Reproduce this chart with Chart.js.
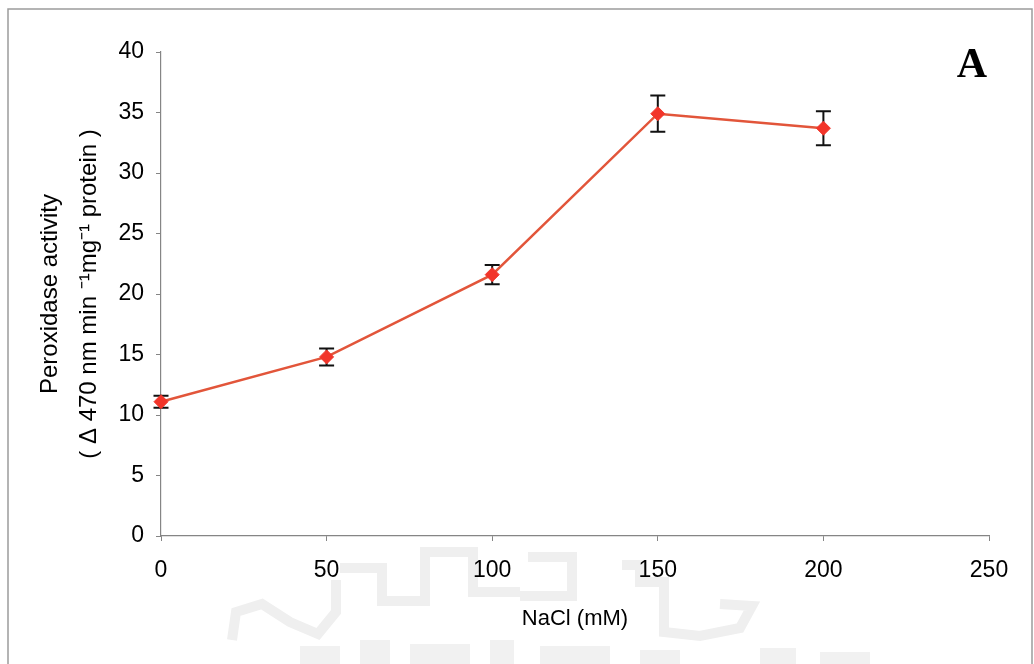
<!DOCTYPE html>
<html>
<head>
<meta charset="utf-8">
<title>Peroxidase activity vs NaCl</title>
<script src="https://cdn.jsdelivr.net/npm/chart.js@4.4.1/dist/chart.umd.min.js"></script>
<style>
  html, body { margin: 0; padding: 0; background: #fff; }
  canvas { display: block; }
</style>
</head>
<body>
<canvas id="peroxidaseChart" width="1034" height="664"></canvas>
<script>
// NaCl concentration (mM) and peroxidase activity (mean, error)
const naclLevels = [0, 50, 100, 150, 200];
const activity = [11.1, 14.8, 21.6, 34.9, 33.7];
const activityErr = [0.5, 0.7, 0.8, 1.5, 1.4];

const xTicks = [0, 50, 100, 150, 200, 250];
const yTicks = [0, 5, 10, 15, 20, 25, 30, 35, 40];

const panelLabel = "A";
const xTitle = "NaCl (mM)";
const yTitle = ["Peroxidase activity", "( \u0394 470 nm min \u207B\u00B9mg\u207B\u00B9 protein )"];

const axisGrey = "#858585";
const lineColor = "#e2553a";
const pointColor = "#f2352a";
const fontFamily = "'Liberation Sans', Arial, Helvetica, sans-serif";

// faint show-through of the page stamp behind the lower part of the plot
const stampStrokes = [
    [[340, 568], [382, 568], [382, 601], [425, 601], [425, 552], [473, 552], [473, 592], [520, 592]],
    [[520, 596], [572, 596], [572, 557], [528, 557]],
    [[622, 565], [640, 565], [640, 582], [664, 582], [664, 632], [700, 636], [740, 628], [752, 606], [720, 604]],
    [[232, 640], [236, 612], [262, 604], [290, 622], [318, 634], [336, 612], [336, 580]]
];
const stampBlocks = [
    [300, 646, 40, 18], [360, 640, 30, 24], [410, 644, 60, 20], [490, 640, 24, 24],
    [540, 646, 70, 18], [640, 650, 40, 14], [760, 648, 36, 16], [820, 652, 50, 12]
];

const pageStamp = {
    id: "pageStamp",
    beforeDraw(chart) {
        const { ctx } = chart;
        ctx.save();
        ctx.strokeStyle = "#efefef";
        ctx.lineWidth = 10;
        ctx.lineJoin = "miter";
        stampStrokes.forEach(path => {
            ctx.beginPath();
            path.forEach(([px, py], k) => k ? ctx.lineTo(px, py) : ctx.moveTo(px, py));
            ctx.stroke();
        });
        ctx.fillStyle = "#f1f1f1";
        stampBlocks.forEach(([bx, by, bw, bh]) => ctx.fillRect(bx, by, bw, bh));
        ctx.restore();
    }
};

// vertical error bars with caps, drawn under the line and markers
const errorBars = {
    id: "errorBars",
    beforeDatasetsDraw(chart) {
        const { ctx, scales: { x, y } } = chart;
        ctx.save();
        ctx.strokeStyle = "#111";
        ctx.lineWidth = 2;
        naclLevels.forEach((lvl, i) => {
            const px = x.getPixelForValue(lvl);
            const top = y.getPixelForValue(activity[i] + activityErr[i]);
            const bot = y.getPixelForValue(activity[i] - activityErr[i]);
            ctx.beginPath();
            ctx.moveTo(px, top); ctx.lineTo(px, bot);
            ctx.moveTo(px - 7.5, top); ctx.lineTo(px + 7.5, top);
            ctx.moveTo(px - 7.5, bot); ctx.lineTo(px + 7.5, bot);
            ctx.stroke();
        });
        ctx.restore();
    }
};

// outer figure frame and the panel letter
const panelFrame = {
    id: "panelFrame",
    afterDraw(chart) {
        const { ctx, width } = chart;
        ctx.save();
        ctx.strokeStyle = "#9c9c9c";
        ctx.lineWidth = 1.5;
        ctx.beginPath();
        ctx.moveTo(8, chart.height);
        ctx.lineTo(8, 9);
        ctx.lineTo(width - 2, 9);
        ctx.lineTo(width - 2, chart.height);
        ctx.stroke();

        ctx.fillStyle = "#000";
        ctx.font = "bold 42px 'Liberation Serif', 'Times New Roman', serif";
        ctx.textAlign = "center";
        ctx.textBaseline = "alphabetic";
        ctx.fillText(panelLabel, 972, 77);
        ctx.restore();
    }
};

new Chart(document.getElementById("peroxidaseChart").getContext("2d"), {
    type: "line",
    data: {
        datasets: [{
            label: "Peroxidase activity",
            data: naclLevels.map((lvl, i) => ({ x: lvl, y: activity[i] })),
            borderColor: lineColor,
            borderWidth: 2.5,
            pointStyle: "rectRot",
            pointRadius: 7,
            pointBackgroundColor: pointColor,
            pointBorderColor: pointColor,
            pointBorderWidth: 1,
            fill: false,
            tension: 0,
            clip: false
        }]
    },
    options: {
        responsive: false,
        animation: false,
        layout: { padding: { left: 0, top: 52, right: 45, bottom: 0 } },
        plugins: {
            legend: { display: false },
            tooltip: { enabled: false }
        },
        scales: {
            x: {
                type: "linear",
                min: 0,
                max: 250,
                afterBuildTicks: s => { s.ticks = xTicks.map(v => ({ value: v })); },
                afterFit: s => { s.height = 128; },
                grid: { drawOnChartArea: false, color: axisGrey, tickLength: 5, tickWidth: 1 },
                border: { color: axisGrey, width: 1.2 },
                ticks: {
                    color: "#000",
                    padding: 16,
                    maxRotation: 0,
                    font: { family: fontFamily, size: 23 }
                },
                title: {
                    display: true,
                    text: xTitle,
                    color: "#000",
                    padding: { top: 0, bottom: 32 },
                    font: { family: fontFamily, size: 22 }
                }
            },
            y: {
                min: 0,
                max: 40,
                afterBuildTicks: s => { s.ticks = yTicks.map(v => ({ value: v })); },
                afterFit: s => { s.width = 161; },
                grid: { drawOnChartArea: false, color: axisGrey, tickLength: 5, tickWidth: 1 },
                border: { color: axisGrey, width: 1.2 },
                ticks: {
                    color: "#000",
                    padding: 12,
                    font: { family: fontFamily, size: 23 }
                },
                title: {
                    display: true,
                    text: yTitle,
                    color: "#000",
                    padding: { top: 31, bottom: 0 },
                    font: { family: fontFamily, size: 24, lineHeight: 39 / 24 }
                }
            }
        }
    },
    plugins: [pageStamp, errorBars, panelFrame]
});
</script>
</body>
</html>
